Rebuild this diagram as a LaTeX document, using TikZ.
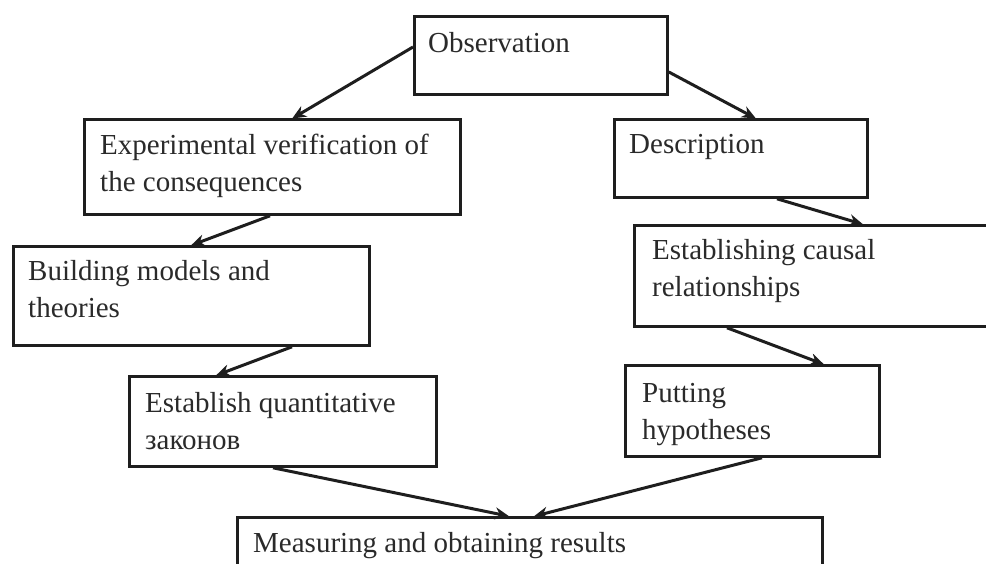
\documentclass[tikz,border=0pt]{standalone}
\usepackage{fontspec}
\setmainfont{Liberation Serif}
\usetikzlibrary{arrows.meta,calc}
\definecolor{ink}{HTML}{1E1E1E}
\definecolor{txtc}{HTML}{2A2A2A}
\tikzset{
  box/.style={draw=ink, line width=2.8pt, fill=white, inner sep=0pt, anchor=north west},
  lbl/.style={anchor=base west, inner sep=0pt, align=left, text=txtc,
    font=\fontsize{29}{37}\selectfont},
  conn/.style={draw=ink, line width=3pt, -{Stealth[length=14pt,width=12pt]}, shorten >=-1pt}
}
\begin{document}
\begin{tikzpicture}[x=1pt,y=-1pt]
\useasboundingbox (0,0) rectangle (986,563);
\clip (0,0) rectangle (986,563);
% boxes
\node[box, minimum width=253pt, minimum height=78pt] (obs) at (413,15) {};
\node[box, minimum width=376pt, minimum height=95pt] (exp) at (83,118) {};
\node[box, minimum width=253pt, minimum height=78pt] (desc) at (613,118) {};
\node[box, minimum width=367pt, minimum height=101pt] (caus) at (633,224) {};
\node[box, minimum width=356pt, minimum height=99pt] (build) at (12,245) {};
\node[box, minimum width=307pt, minimum height=90pt] (quant) at (128,375) {};
\node[box, minimum width=254pt, minimum height=91pt] (hyp) at (624,364) {};
\node[box, minimum width=585pt, minimum height=74pt] (meas) at (236,516) {};
% texts (base anchor = baseline of last line)
\node[lbl] (obst) at ([shift={(15pt,-37pt)}]obs.north west) {Observation};
\node[lbl] (expt) at ([shift={(17pt,-73pt)}]exp.north west) {Experimental verification of\\the consequences};
\node[lbl] (desct) at ([shift={(16pt,-35pt)}]desc.north west) {Description};
\node[lbl] (caust) at ([shift={(19pt,-72pt)}]caus.north west) {Establishing causal\\relationships};
\node[lbl] (buildt) at ([shift={(16pt,-72pt)}]build.north west) {Building models and\\theories};
\node[lbl] (quantt) at ([shift={(17pt,-74pt)}]quant.north west) {Establish quantitative\\законов};
\node[lbl] (hypt) at ([shift={(18pt,-75pt)}]hyp.north west) {Putting\\hypotheses};
\node[lbl] (meast) at ([shift={(17pt,-36pt)}]meas.north west) {Measuring and obtaining results};
% connectors
\draw[conn] ([yshift=-32pt]obs.north west) -- ([xshift=210pt]exp.north west);
\draw[conn] ([yshift=-57pt]obs.north east) -- ([xshift=142pt]desc.north west);
\draw[conn] ([xshift=187pt]exp.south west) -- ([xshift=180pt]build.north west);
\draw[conn] ([xshift=280pt]build.south west) -- ([xshift=89pt]quant.north west);
\draw[conn] ([xshift=145pt]quant.south west) -- ([xshift=272pt]meas.north west);
\draw[conn] ([xshift=164pt]desc.south west) -- ([xshift=229pt]caus.north west);
\draw[conn] ([xshift=94pt]caus.south west) -- ([xshift=199pt]hyp.north west);
\draw[conn] ([xshift=138pt]hyp.south west) -- ([xshift=299pt]meas.north west);
\end{tikzpicture}
\end{document}
